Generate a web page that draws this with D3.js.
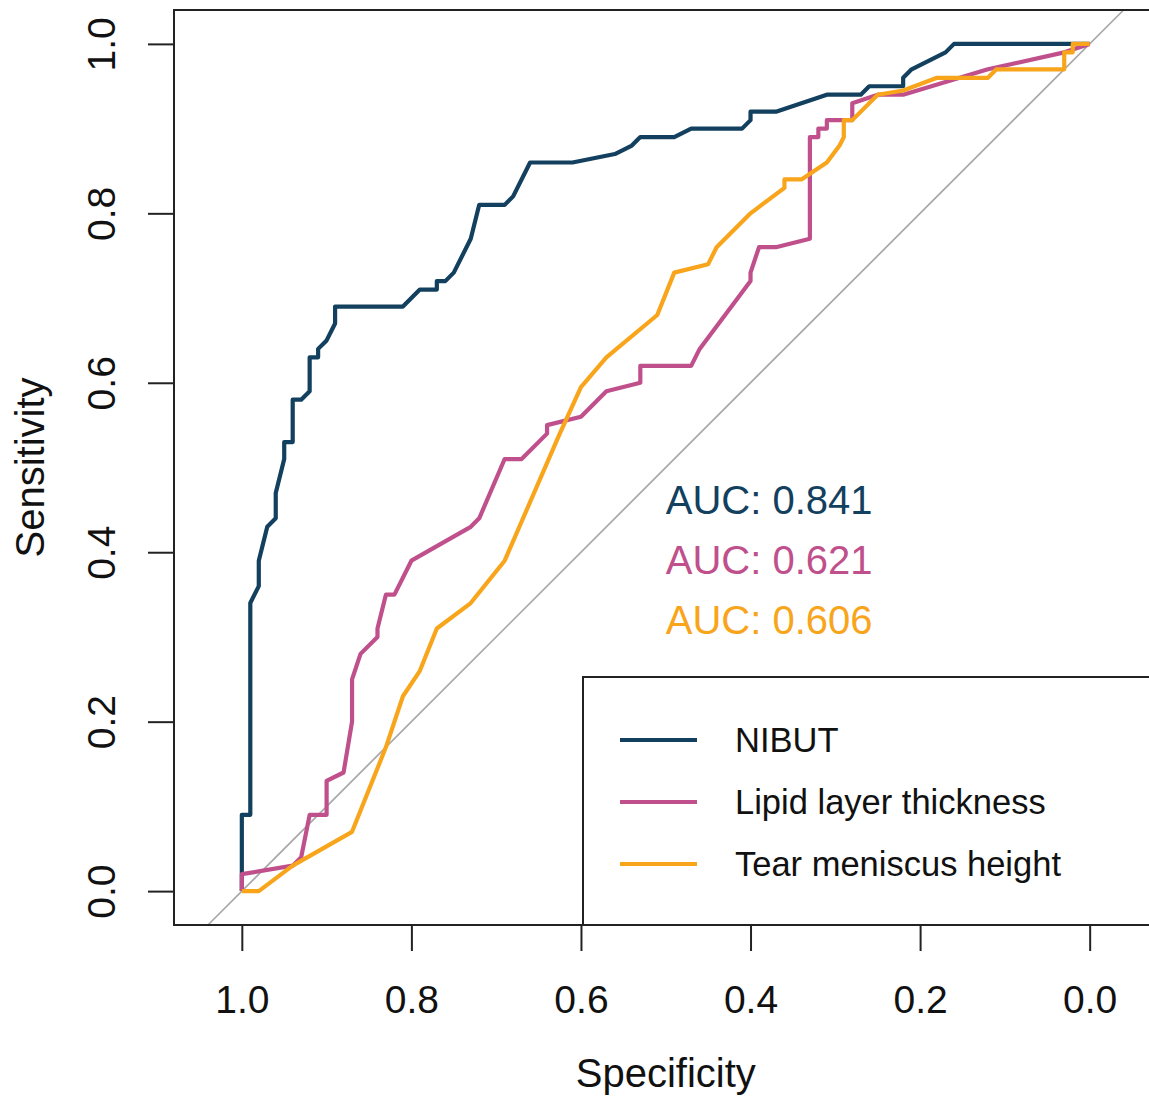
<!DOCTYPE html>
<html>
<head>
<meta charset="utf-8">
<script src="https://cdn.jsdelivr.net/npm/d3@7"></script>
<style>
  html, body { margin: 0; padding: 0; background: #fff; }
  svg { display: block; font-family: "Liberation Sans", Arial, Helvetica, sans-serif; }
</style>
</head>
<body>
<svg id="chart" width="1149" height="1097"></svg>
<script>
// ---------- DATA ----------
const seriesNames = ["NIBUT", "Lipid layer thickness", "Tear meniscus height"];
const aucLabels = ["AUC: 0.841", "AUC: 0.621", "AUC: 0.606"];
const xTicks = [1.0, 0.8, 0.6, 0.4, 0.2, 0.0];
const yTicks = [0.0, 0.2, 0.4, 0.6, 0.8, 1.0];

// ROC curve points: [specificity, sensitivity]
const nibut = [
  [1.00,0.00],[1.00,0.09],[0.99,0.09],[0.99,0.34],[0.98,0.36],[0.98,0.39],[0.97,0.43],[0.96,0.44],
  [0.96,0.47],[0.95,0.51],[0.95,0.53],[0.94,0.53],[0.94,0.58],[0.93,0.58],[0.92,0.59],[0.92,0.63],
  [0.91,0.63],[0.91,0.64],[0.90,0.65],[0.89,0.67],[0.89,0.69],[0.81,0.69],[0.79,0.71],[0.77,0.71],
  [0.77,0.72],[0.76,0.72],[0.75,0.73],[0.73,0.77],[0.72,0.81],[0.69,0.81],[0.68,0.82],[0.66,0.86],
  [0.61,0.86],[0.56,0.87],[0.54,0.88],[0.53,0.89],[0.49,0.89],[0.47,0.90],[0.41,0.90],[0.40,0.91],
  [0.40,0.92],[0.37,0.92],[0.31,0.94],[0.27,0.94],[0.26,0.95],[0.22,0.95],[0.22,0.96],[0.21,0.97],
  [0.17,0.99],[0.16,1.00],[0.00,1.00]
];
const lipid = [
  [1.00,0.00],[1.00,0.02],[0.94,0.03],[0.93,0.04],[0.92,0.09],[0.90,0.09],[0.90,0.13],[0.88,0.14],
  [0.87,0.20],[0.87,0.25],[0.86,0.28],[0.84,0.30],[0.84,0.31],[0.83,0.35],[0.82,0.35],[0.80,0.39],
  [0.73,0.43],[0.72,0.44],[0.69,0.51],[0.67,0.51],[0.64,0.54],[0.64,0.55],[0.60,0.56],[0.57,0.59],
  [0.53,0.60],[0.53,0.62],[0.47,0.62],[0.46,0.64],[0.40,0.72],[0.40,0.73],[0.39,0.76],[0.37,0.76],
  [0.33,0.77],[0.33,0.89],[0.32,0.89],[0.32,0.90],[0.31,0.90],[0.31,0.91],[0.28,0.91],[0.28,0.93],
  [0.25,0.94],[0.22,0.94],[0.12,0.97],[0.03,0.99],[0.00,1.00]
];
const tear = [
  [1.00,0.00],[0.98,0.00],[0.94,0.03],[0.87,0.07],[0.83,0.17],[0.81,0.23],[0.79,0.26],[0.77,0.31],
  [0.73,0.34],[0.69,0.39],[0.625,0.54],[0.60,0.595],[0.57,0.63],[0.51,0.68],[0.49,0.73],[0.45,0.74],
  [0.44,0.76],[0.40,0.80],[0.36,0.83],[0.36,0.84],[0.34,0.84],[0.31,0.86],[0.295,0.88],[0.29,0.89],
  [0.29,0.91],[0.28,0.91],[0.25,0.94],[0.22,0.945],[0.18,0.96],[0.12,0.96],[0.11,0.97],[0.03,0.97],
  [0.03,0.99],[0.02,0.99],[0.02,1.00],[0.00,1.00]
];
const seriesData = [nibut, lipid, tear];

// ---------- STYLE / LAYOUT ----------
const colors = ["#12405e", "#c0508c", "#f8a51c"];
const aucPos = [[0.5, 0.462], [0.5, 0.391], [0.5, 0.320]];
const font = '"Liberation Sans", Arial, Helvetica, sans-serif';

const svg = d3.select("#chart");
const x = d3.scaleLinear().domain([1.08, -0.08]).range([174, 1157.5]);
const y = d3.scaleLinear().domain([-0.04, 1.04]).range([925, 10]);

// diagonal
svg.append("line")
  .attr("x1", x(1.04)).attr("y1", y(-0.04))
  .attr("x2", x(-0.04)).attr("y2", y(1.04))
  .attr("stroke", "#a8a8a8").attr("stroke-width", 1.7);

// curves
const line = d3.line().x(d => x(d[0])).y(d => y(d[1]));
seriesData.forEach((data, i) => {
  svg.append("path")
    .datum(data)
    .attr("d", line)
    .attr("fill", "none")
    .attr("stroke", colors[i])
    .attr("stroke-width", 4.2)
    .attr("stroke-linejoin", "round")
    .attr("stroke-linecap", "butt");
});

// AUC texts
aucLabels.forEach((t, i) => {
  svg.append("text")
    .attr("x", x(aucPos[i][0]))
    .attr("y", y(aucPos[i][1]) + 14)
    .attr("fill", colors[i])
    .attr("font-size", 40)
    .text(t);
});

// legend
const legend = svg.append("g");
legend.append("rect")
  .attr("x", 583).attr("y", 677)
  .attr("width", 700).attr("height", 925 - 677)
  .attr("fill", "#fff").attr("stroke", "#222").attr("stroke-width", 2);
const legY = [740, 802, 864];
seriesNames.forEach((n, i) => {
  legend.append("line")
    .attr("x1", 620).attr("x2", 697)
    .attr("y1", legY[i]).attr("y2", legY[i])
    .attr("stroke", colors[i]).attr("stroke-width", 4.2);
  legend.append("text")
    .attr("x", 735).attr("y", legY[i] + 12)
    .attr("font-size", 34.5).attr("fill", "#111")
    .text(n);
});

// frame
svg.append("rect")
  .attr("x", 174).attr("y", 10)
  .attr("width", 1157.5 - 174).attr("height", 915)
  .attr("fill", "none").attr("stroke", "#222").attr("stroke-width", 2);

// x axis
const xAxis = svg.append("g")
  .attr("transform", "translate(0,925)")
  .call(d3.axisBottom(x).tickValues(xTicks).tickSize(26).tickFormat(d3.format(".1f")));
xAxis.select(".domain").remove();
xAxis.selectAll(".tick line").attr("stroke", "#222").attr("stroke-width", 2);
xAxis.selectAll(".tick text")
  .attr("y", 88).attr("dy", null)
  .attr("font-size", 39).attr("font-family", font).attr("fill", "#111");

// y axis
const yAxis = svg.append("g")
  .attr("transform", "translate(174,0)")
  .call(d3.axisLeft(y).tickValues(yTicks).tickSize(26).tickFormat(d3.format(".1f")));
yAxis.select(".domain").remove();
yAxis.selectAll(".tick line").attr("stroke", "#222").attr("stroke-width", 2);
yAxis.selectAll(".tick text")
  .attr("x", null).attr("dy", null)
  .attr("transform", "translate(-59,0) rotate(-90)")
  .attr("text-anchor", "middle")
  .attr("font-size", 39).attr("font-family", font).attr("fill", "#111");

// axis titles
svg.append("text")
  .attr("x", (174 + 1157.5) / 2).attr("y", 1087)
  .attr("text-anchor", "middle").attr("font-size", 40).attr("fill", "#111")
  .text("Specificity");
svg.append("text")
  .attr("transform", `translate(44,${(10 + 925) / 2}) rotate(-90)`)
  .attr("text-anchor", "middle").attr("font-size", 40).attr("fill", "#111")
  .text("Sensitivity");
</script>
</body>
</html>
